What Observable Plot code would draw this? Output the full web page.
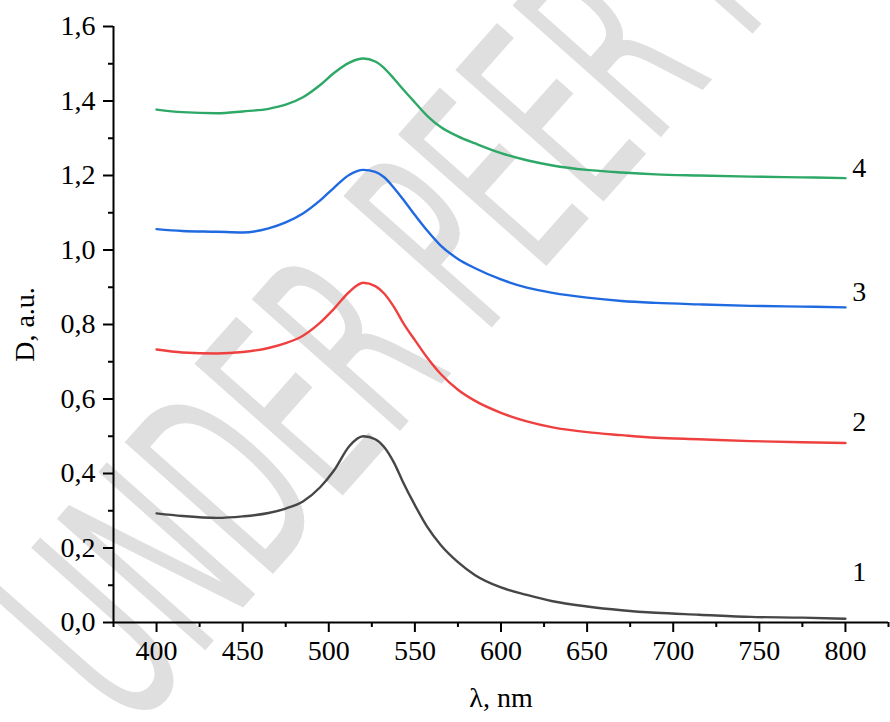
<!DOCTYPE html>
<html>
<head>
<meta charset="utf-8">
<script src="https://cdn.jsdelivr.net/npm/d3@7"></script>
<script src="https://cdn.jsdelivr.net/npm/@observablehq/plot@0.6"></script>
<style>
  html, body { margin: 0; padding: 0; background: white; }
  #chart { width: 890px; height: 722px; }
</style>
</head>
<body>
<div id="chart"></div>
<script>
// Wavelength grid (nm)
const wavelength = [400,415,435,450,465,475,485,495,503,512,520,527,532,538,543,550,557,565,575,585,600,615,630,650,670,690,715,745,775,800];
// Optical density, curves 1..4
const curve1 = [0.293,0.286,0.281,0.285,0.294,0.306,0.325,0.363,0.408,0.474,0.500,0.492,0.472,0.428,0.378,0.315,0.258,0.208,0.162,0.127,0.094,0.074,0.057,0.043,0.033,0.026,0.021,0.015,0.013,0.010];
const curve2 = [0.733,0.725,0.722,0.726,0.737,0.750,0.770,0.805,0.842,0.888,0.912,0.903,0.884,0.846,0.806,0.758,0.712,0.667,0.625,0.595,0.563,0.540,0.524,0.511,0.503,0.496,0.492,0.487,0.484,0.482];
const curve3 = [1.056,1.051,1.049,1.047,1.058,1.074,1.098,1.133,1.167,1.202,1.215,1.210,1.196,1.166,1.137,1.094,1.053,1.012,0.976,0.951,0.921,0.899,0.885,0.872,0.863,0.858,0.854,0.850,0.848,0.846];
const curve4 = [1.377,1.370,1.367,1.372,1.379,1.390,1.410,1.443,1.475,1.503,1.514,1.506,1.489,1.459,1.432,1.396,1.361,1.330,1.305,1.286,1.260,1.241,1.227,1.215,1.208,1.203,1.200,1.197,1.195,1.193];

const seriesNames = ["1", "2", "3", "4"];
const seriesColors = ["#464646", "#ef4040", "#1f6ae0", "#2ea866"];
const seriesValues = [curve1, curve2, curve3, curve4];

// Curve number labels (data units)
const labelX = [808, 808, 808, 808];
const labelY = [0.136, 0.538, 0.888, 1.221];

const xDomain = [375, 825];
const yDomain = [0, 1.6];
const xTicks = [400, 450, 500, 550, 600, 650, 700, 750, 800];
const xMinorTicks = [375, 425, 475, 525, 575, 625, 675, 725, 775, 825];
const yTicks = [0, 0.2, 0.4, 0.6, 0.8, 1.0, 1.2, 1.4, 1.6];
const yMinorTicks = [0.1, 0.3, 0.5, 0.7, 0.9, 1.1, 1.3, 1.5];
const xLabel = "λ, nm";
const yLabel = "D, a.u.";
const watermark = "UNDER PEER REVIEW";

const rows = [];
seriesValues.forEach((vals, i) => {
  wavelength.forEach((w, j) => rows.push({series: seriesNames[i], x: w, y: vals[j]}));
});
const labels = seriesNames.map((s, i) => ({text: s, x: labelX[i], y: labelY[i]}));

const fmt = d => d.toFixed(1).replace(".", ",");

const chart = Plot.plot({
  width: 890,
  height: 722,
  marginLeft: 113,
  marginRight: 2,
  marginTop: 26,
  marginBottom: 100,
  style: {fontFamily: "'Liberation Serif', 'Times New Roman', serif", fontSize: "28px", background: "white", color: "black"},
  x: {domain: xDomain},
  y: {domain: yDomain},
  color: {domain: seriesNames, range: seriesColors},
  marks: [
    Plot.line(rows, {x: "x", y: "y", z: "series", stroke: "series", strokeWidth: 2.4, curve: "monotone-x"}),
    Plot.axisX({ticks: xTicks, tickSize: 10, tickPadding: 8, tickFormat: d => String(d), label: null, strokeWidth: 2, fontSize: 28}),
    Plot.axisX({ticks: xMinorTicks, tickSize: 5, tickFormat: () => "", label: null, strokeWidth: 2}),
    Plot.axisY({ticks: yTicks, tickSize: 10, tickPadding: 8, tickFormat: fmt, label: null, strokeWidth: 2, fontSize: 28}),
    Plot.axisY({ticks: yMinorTicks, tickSize: 5, tickFormat: () => "", label: null, strokeWidth: 2}),
    Plot.ruleY([0], {stroke: "black", strokeWidth: 2}),
    Plot.ruleX([375], {stroke: "black", strokeWidth: 2}),
    Plot.text(labels, {x: "x", y: "y", text: "text", fontSize: 28, fill: "black"}),
    Plot.text([xLabel], {frameAnchor: "bottom", dy: 76, textAnchor: "middle", lineAnchor: "middle", fontSize: 28, fill: "black"}),
    Plot.text([yLabel], {frameAnchor: "left", dx: -88, rotate: -90, textAnchor: "middle", lineAnchor: "middle", fontSize: 28, fill: "black"})
  ]
});

document.getElementById("chart").appendChild(chart);

// Light grey diagonal watermark behind everything
d3.select(chart).insert("text", ":first-child")
  .attr("transform", "translate(130,735) rotate(-48.4)")
  .attr("font-family", "DejaVu Sans")
  .attr("font-size", 272)
  .attr("text-anchor", "start")
  .attr("fill", "#dfdfdf")
  .attr("textLength", 1460)
  .attr("lengthAdjust", "spacingAndGlyphs")
  .text(watermark);
</script>
</body>
</html>
